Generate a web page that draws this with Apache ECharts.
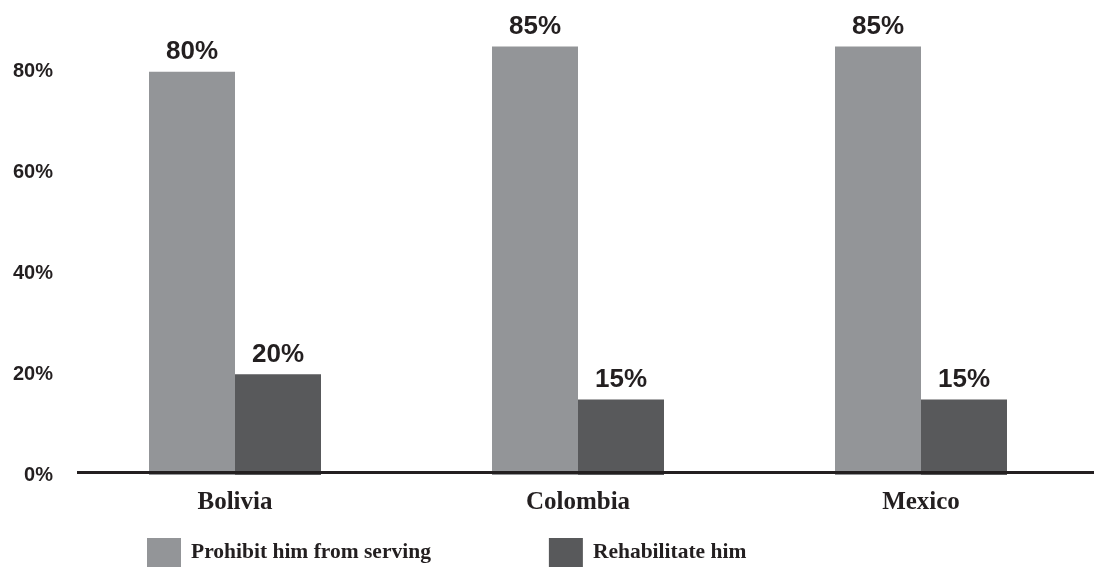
<!DOCTYPE html>
<html>
<head>
<meta charset="utf-8">
<script src="https://cdn.jsdelivr.net/npm/echarts@6/dist/echarts.min.js"></script>
<style>
  html, body { margin: 0; padding: 0; background: #ffffff; }
  #chart { width: 1094px; height: 567px; }
</style>
</head>
<body>
<div id="chart"></div>
<script>
// Survey answers by country (percent of respondents)
const countries = ['Bolivia', 'Colombia', 'Mexico'];
const prohibitValues = [80, 85, 85];
const rehabilitateValues = [20, 15, 15];
const seriesNames = ['Prohibit him from serving', 'Rehabilitate him'];
const yTicks = [0, 20, 40, 60, 80];

const INK = '#231f20';
const LIGHT = '#939598';
const DARK = '#58595b';

const chart = echarts.init(document.getElementById('chart'), null, { renderer: 'canvas' });

const valueLabel = {
  show: true,
  position: 'top',
  distance: 6.5,
  formatter: p => p.value + '%',
  color: INK,
  fontFamily: 'Liberation Sans, Arial, sans-serif',
  fontWeight: 'bold',
  fontSize: 26
};

chart.setOption({
  animation: false,
  backgroundColor: '#ffffff',
  grid: { left: 63.5, right: 1.5, top: 21.4, bottom: 92, containLabel: false },
  legend: {
    left: 147,
    top: 538,
    padding: 0,
    itemWidth: 34,
    itemHeight: 29,
    itemGap: 118,
    icon: 'rect',
    data: seriesNames,
    textStyle: {
      color: INK,
      fontFamily: 'Liberation Serif, Times New Roman, serif',
      fontWeight: 'bold',
      fontSize: 21.5,
      padding: [6, 0, 0, 5]
    }
  },
  xAxis: {
    type: 'category',
    data: countries,
    axisLine: { show: false },
    axisTick: { show: false },
    axisLabel: {
      margin: 15,
      color: INK,
      fontFamily: 'Liberation Serif, Times New Roman, serif',
      fontWeight: 'bold',
      fontSize: 25
    }
  },
  yAxis: {
    type: 'value',
    min: 0,
    max: 90,
    interval: 20,
    axisLine: { show: false },
    axisTick: { show: false },
    splitLine: { show: false },
    axisLabel: {
      margin: 10.5,
      showMaxLabel: false,
      padding: [6, 0, 0, 0],
      formatter: v => (yTicks.indexOf(v) >= 0 ? v + '%' : ''),
      color: INK,
      fontFamily: 'Liberation Sans, Arial, sans-serif',
      fontWeight: 'bold',
      fontSize: 20
    }
  },
  series: [
    {
      name: seriesNames[0],
      type: 'bar',
      data: prohibitValues,
      barWidth: 86,
      barGap: '0%',
      itemStyle: { color: LIGHT },
      label: valueLabel
    },
    {
      name: seriesNames[1],
      type: 'bar',
      data: rehabilitateValues,
      barWidth: 86,
      barGap: '0%',
      itemStyle: { color: DARK },
      label: valueLabel
    }
  ]
});

// Baseline rule at 0%, running from just right of the tick labels to the page edge
const baseY = chart.convertToPixel({ yAxisIndex: 0 }, 0) - 2.5;
chart.setOption({
  graphic: [{
    type: 'line',
    z: 100,
    shape: { x1: 77, y1: baseY, x2: 1094, y2: baseY },
    style: { stroke: INK, lineWidth: 3 }
  }]
});
</script>
</body>
</html>
